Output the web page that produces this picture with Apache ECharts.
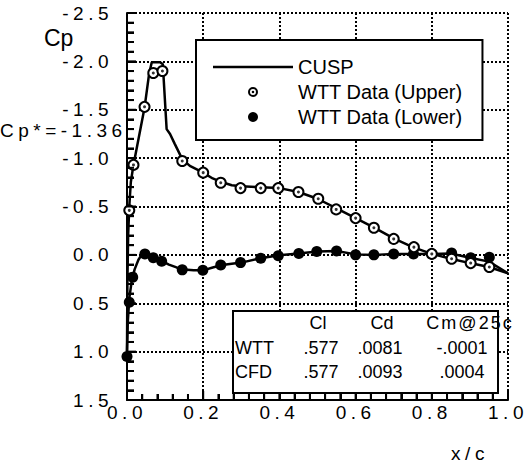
<!DOCTYPE html>
<html>
<head>
<meta charset="utf-8">
<script src="https://cdn.jsdelivr.net/npm/echarts@6/dist/echarts.min.js"></script>
<style>
  html, body { margin: 0; padding: 0; background: #fff; }
  #chart { width: 527px; height: 469px; }
  #chart text[style*="Spaced"], #chart text[font-family*="Spaced"] { letter-spacing: 4.5px; }
  #chart text[style*="Widen"], #chart text[font-family*="Widen"] { letter-spacing: 2px; }
</style>
</head>
<body>
<div id="chart"></div>
<script>
// ---- data ----
var xTicks = [0.0, 0.2, 0.4, 0.6, 0.8, 1.0];
var yTicks = [-2.5, -2.0, -1.5, -1.0, -0.5, 0.0, 0.5, 1.0, 1.5];
var xMinorPerMajor = 5;
var yMinorPerMajor = 5;

var cuspUpperX  = [0.0, 0.001, 0.003, 0.006, 0.010, 0.017, 0.046, 0.058, 0.065, 0.087, 0.094, 0.104, 0.113, 0.125, 0.145, 0.165, 0.2, 0.225, 0.25, 0.275, 0.3, 0.35, 0.4, 0.45, 0.5, 0.55, 0.6, 0.65, 0.7, 0.75, 0.8, 0.85, 0.9, 0.95, 1.0];
var cuspUpperCp = [1.0, 0.3, -0.2, -0.5, -0.75, -0.93, -1.52, -1.87, -1.99, -1.99, -1.97, -1.30, -1.25, -1.15, -0.99, -0.92, -0.85, -0.79, -0.75, -0.72, -0.71, -0.70, -0.69, -0.65, -0.58, -0.48, -0.38, -0.28, -0.17, -0.08, -0.01, 0.04, 0.085, 0.125, 0.19];

var cuspLowerX  = [0.0, 0.002, 0.006, 0.012, 0.020, 0.030, 0.040, 0.050, 0.060, 0.075, 0.090, 0.110, 0.130, 0.150, 0.175, 0.2, 0.225, 0.25, 0.3, 0.35, 0.4, 0.45, 0.5, 0.55, 0.6, 0.65, 0.7, 0.75, 0.8, 0.85, 0.9, 0.95, 1.0];
var cuspLowerCp = [1.0, 0.70, 0.45, 0.28, 0.15, 0.05, -0.01, -0.02, 0.0, 0.03, 0.06, 0.10, 0.13, 0.15, 0.16, 0.16, 0.13, 0.105, 0.08, 0.035, 0.005, -0.015, -0.035, -0.04, -0.005, 0.0, -0.01, -0.01, -0.01, -0.015, 0.03, 0.07, 0.19];

var wttUpperX  = [0.006, 0.017, 0.046, 0.069, 0.093, 0.145, 0.200, 0.246, 0.298, 0.351, 0.397, 0.450, 0.502, 0.549, 0.600, 0.648, 0.700, 0.753, 0.800, 0.852, 0.902, 0.951];
var wttUpperCp = [-0.46, -0.93, -1.53, -1.88, -1.90, -0.97, -0.85, -0.745, -0.69, -0.69, -0.69, -0.65, -0.58, -0.47, -0.38, -0.28, -0.165, -0.08, -0.01, 0.04, 0.085, 0.125];

var wttLowerX  = [0.0, 0.006, 0.015, 0.047, 0.069, 0.091, 0.145, 0.199, 0.246, 0.298, 0.351, 0.397, 0.451, 0.498, 0.550, 0.600, 0.648, 0.700, 0.752, 0.800, 0.852, 0.902, 0.951];
var wttLowerCp = [1.05, 0.49, 0.23, -0.01, 0.03, 0.065, 0.155, 0.16, 0.105, 0.08, 0.035, 0.01, -0.015, -0.035, -0.04, 0.0, 0.0, -0.01, -0.01, -0.01, -0.02, 0.03, 0.025];

var seriesNames = ['CUSP', 'WTT Data (Upper)', 'WTT Data (Lower)'];
var tableHeader = ['Cl', 'Cd', 'Cm@25c'];
var tableRowNames = ['WTT', 'CFD'];
var tableCl = ['.577', '.577'];
var tableCd = ['.0081', '.0093'];
var tableCm = ['-.0001', '.0004'];
var cpStarLabel = 'Cp*=-1.36';

function pairs(xs, ys) { return xs.map(function (x, i) { return [x, ys[i]]; }); }

// tick positions (major + minor) derived from the tick arrays
function tickList(majors, per) {
  var out = [];
  for (var i = 0; i < majors.length; i++) {
    out.push([majors[i], 1]);
    if (i < majors.length - 1) {
      var step = (majors[i + 1] - majors[i]) / per;
      for (var k = 1; k < per; k++) out.push([majors[i] + step * k, 0]);
    }
  }
  return out;
}
var xTickData = tickList(xTicks, xMinorPerMajor);
var yTickData = tickList(yTicks, yMinorPerMajor);
var xMin = xTicks[0], yMax = yTicks[yTicks.length - 1];

var chart = echarts.init(document.getElementById('chart'), null, { renderer: 'svg' });

var SPACED = '19px Spaced, Liberation Sans';
var ringDot = 'path://M5,0 A5,5 0 1 1 -5,0 A5,5 0 1 1 5,0 Z M3,0 A3,3 0 1 0 -3,0 A3,3 0 1 0 3,0 Z M1.3,0 A1.3,1.3 0 1 1 -1.3,0 A1.3,1.3 0 1 1 1.3,0 Z';
var lineIcon = 'path://M0,0 L80,0 L80,2.5 L0,2.5 Z';

var tableTexts = [];
var hdrX = [318, 382, 470];
tableHeader.forEach(function (t, i) {
  tableTexts.push({ type: 'text', x: hdrX[i], y: 323, z: 11,
    style: { text: t, font: (i === 2 ? '18px Widen, Liberation Sans' : '18px Liberation Sans'), fill: '#000', textAlign: 'center', textVerticalAlign: 'middle' } });
});
var rowY = [348, 372];
tableRowNames.forEach(function (n, r) {
  tableTexts.push({ type: 'text', x: 235, y: rowY[r], z: 11,
    style: { text: n, font: '18px Liberation Sans', fill: '#000', textAlign: 'left', textVerticalAlign: 'middle' } });
  [[tableCl[r], 321], [tableCd[r], 380], [tableCm[r], 462]].forEach(function (c) {
    tableTexts.push({ type: 'text', x: c[1], y: rowY[r], z: 11,
      style: { text: c[0], font: '18px Liberation Sans', fill: '#000', textAlign: 'center', textVerticalAlign: 'middle' } });
  });
});

function gridLine() {
  return { show: true, showMinLine: true, showMaxLine: true, lineStyle: { color: '#000', width: 2, type: 'dotted', opacity: 1 } };
}

var option = {
  animation: false,
  backgroundColor: '#fff',
  grid: { left: 127, right: 19, top: 13, bottom: 69, containLabel: false },
  xAxis: {
    type: 'value', min: 0, max: 1, interval: 0.2,
    axisLine: { onZero: false, lineStyle: { color: '#000', width: 2 } },
    axisTick: { show: true, inside: true, length: 9, lineStyle: { color: '#000', width: 2 } },
    minorTick: { show: true, splitNumber: 5, length: 6, lineStyle: { color: '#000', width: 2 } },
    splitLine: gridLine(),
    axisLabel: { margin: 3, color: '#000', fontSize: 19, fontFamily: 'Spaced, Liberation Sans',
      formatter: function (v) { return v.toFixed(1); } }
  },
  yAxis: {
    type: 'value', min: -2.5, max: 1.5, interval: 0.5, inverse: true,
    axisLine: { onZero: false, lineStyle: { color: '#000', width: 2 } },
    axisTick: { show: true, inside: true, length: 9, lineStyle: { color: '#000', width: 2 } },
    minorTick: { show: true, splitNumber: 5, length: 7, lineStyle: { color: '#000', width: 2 } },
    splitLine: gridLine(),
    axisLabel: { margin: 14, color: '#000', fontSize: 19, fontFamily: 'Spaced, Liberation Sans',
      formatter: function (v) { return v.toFixed(1); } }
  },
  legend: {
    orient: 'vertical', left: 196, top: 40,
    padding: [17, 20, 13, 17],
    itemWidth: 80, itemHeight: 10, itemGap: 5,
    backgroundColor: '#fff', borderColor: '#000', borderWidth: 2, borderRadius: 0,
    selectedMode: false,
    textStyle: { fontSize: 20, fontFamily: 'Liberation Sans', color: '#000', lineHeight: 20, padding: [0, 0, 0, 0] },
    data: [
      { name: seriesNames[0], icon: lineIcon, itemStyle: { color: '#000', borderWidth: 0 } },
      { name: seriesNames[1], icon: ringDot, itemStyle: { color: '#000', borderWidth: 0 } },
      { name: seriesNames[2], icon: 'circle' }
    ]
  },
  graphic: [
    { type: 'rect', shape: { x: 233, y: 311, width: 265, height: 82 }, z: 10,
      style: { fill: '#fff', stroke: '#000', lineWidth: 2 } },
    { type: 'text', x: 44, y: 38, z: 10,
      style: { text: 'Cp', font: '23px Liberation Sans', fill: '#000', textAlign: 'left', textVerticalAlign: 'middle' } },
    { type: 'text', x: 0, y: 130, z: 10,
      style: { text: cpStarLabel, font: SPACED, fill: '#000', textAlign: 'left', textVerticalAlign: 'middle' } },
    { type: 'text', x: 470, y: 453, z: 10,
      style: { text: 'x/c', font: SPACED, fill: '#000', textAlign: 'center', textVerticalAlign: 'middle' } }
  ].concat(tableTexts),
  series: [
    { name: seriesNames[0], type: 'line', symbol: 'none', z: 2,
      lineStyle: { color: '#000', width: 2.5 }, itemStyle: { color: '#000' },
      data: pairs(cuspUpperX, cuspUpperCp) },
    { name: seriesNames[0], type: 'line', symbol: 'none', z: 2,
      lineStyle: { color: '#000', width: 2.5 }, itemStyle: { color: '#000' },
      data: pairs(cuspLowerX, cuspLowerCp) },
    { name: seriesNames[2], type: 'scatter', symbol: 'circle', symbolSize: 11, z: 3,
      itemStyle: { color: '#000', opacity: 1 },
      data: pairs(wttLowerX, wttLowerCp) },
    { name: seriesNames[1], type: 'scatter', symbol: 'circle', symbolSize: 10, z: 4,
      itemStyle: { color: '#fff', borderColor: '#000', borderWidth: 2, opacity: 1 },
      data: pairs(wttUpperX, wttUpperCp) },
    { name: 'upperDot', type: 'scatter', symbol: 'circle', symbolSize: 3, z: 5, silent: true,
      itemStyle: { color: '#000' },
      data: pairs(wttUpperX, wttUpperCp) },
    { name: 'xTickMarks', type: 'custom', z: 6, silent: true, clip: false,
      encode: { x: 0, y: -1 },
      data: xTickData.map(function (d) { return [d[0], yMax, d[1]]; }),
      renderItem: function (params, api) {
        var p = api.coord([api.value(0), api.value(1)]);
        var len = api.value(2) ? 9 : 6;
        return { type: 'line', shape: { x1: p[0], y1: p[1], x2: p[0], y2: p[1] - len },
          style: { stroke: '#000', lineWidth: 2 } };
      } },
    { name: 'yTickMarks', type: 'custom', z: 6, silent: true, clip: false,
      data: yTickData.map(function (d) { return [xMin, d[0], d[1]]; }),
      renderItem: function (params, api) {
        var p = api.coord([api.value(0), api.value(1)]);
        var len = api.value(2) ? 9 : 7;
        return { type: 'line', shape: { x1: p[0], y1: p[1], x2: p[0] + len, y2: p[1] },
          style: { stroke: '#000', lineWidth: 2 } };
      } }
  ]
};
chart.setOption(option);
</script>
</body>
</html>
